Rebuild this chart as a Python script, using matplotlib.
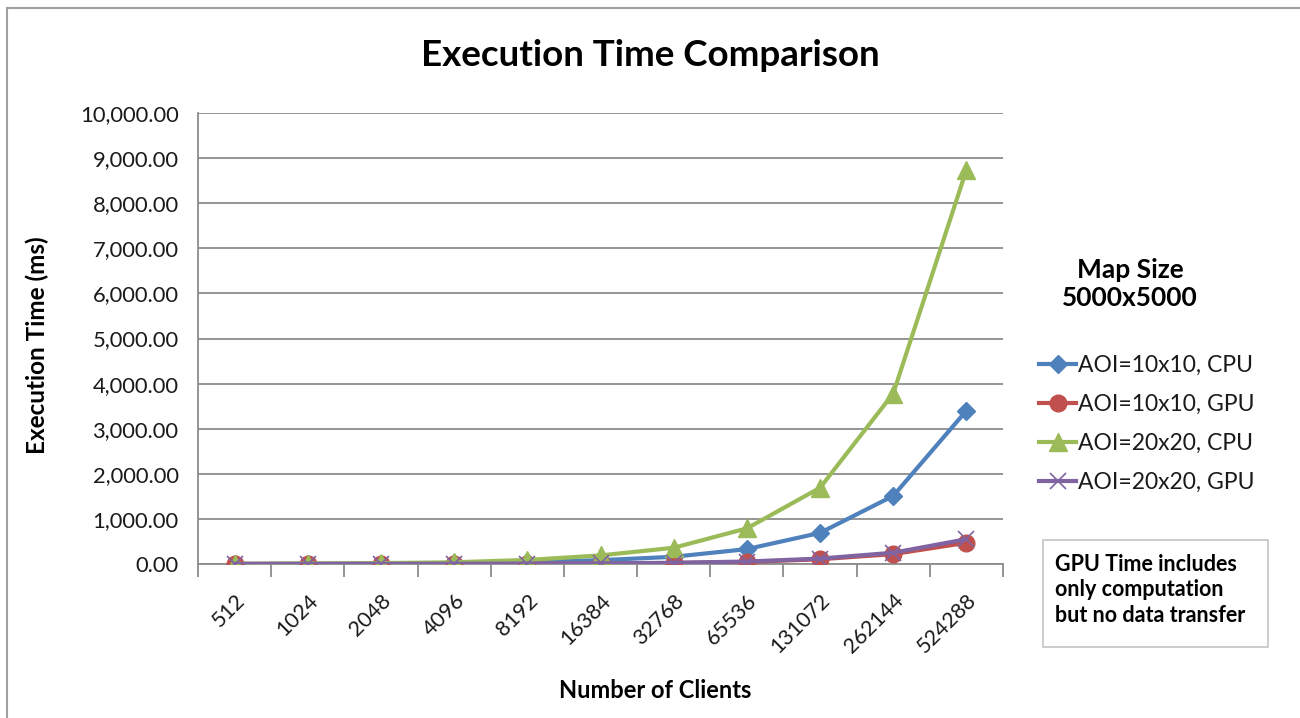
import matplotlib
matplotlib.use("Agg")
import matplotlib.pyplot as plt
from matplotlib.ticker import FuncFormatter, FixedLocator
from matplotlib.patches import Rectangle

clients = ["512", "1024", "2048", "4096", "8192", "16384", "32768",
           "65536", "131072", "262144", "524288"]
cpu_10 = [2, 4, 8, 18, 40, 85, 160, 330, 690, 1510, 3400]
gpu_10 = [1, 2, 3, 5, 8, 12, 22, 45, 105, 220, 470]
cpu_20 = [5, 10, 20, 38, 90, 190, 360, 790, 1690, 3780, 8740]
gpu_20 = [1, 2, 4, 6, 10, 15, 27, 55, 120, 250, 550]
series_labels = ["AOI=10x10, CPU", "AOI=10x10, GPU", "AOI=20x20, CPU", "AOI=20x20, GPU"]

plt.rcParams['font.family'] = ['Lato', 'DejaVu Sans']

fig = plt.figure(figsize=(13, 7.18), dpi=100)
ax = fig.add_axes([198/1300, 1-564/718, (1003-198)/1300, (564-113)/718])

x = list(range(len(clients)))
ax.plot(x, cpu_10, color="#4F81BD", lw=3, marker="D", ms=9, label=series_labels[0], zorder=3)
ax.plot(x, gpu_10, color="#C0504D", lw=3, marker="o", ms=12, label=series_labels[1], zorder=3)
ax.plot(x, cpu_20, color="#9BBB59", lw=3, marker="^", ms=13, label=series_labels[2], zorder=3)
ax.plot(x, gpu_20, color="#8064A2", lw=3, marker="x", ms=12, mew=1.2, label=series_labels[3], zorder=4)

ax.set_xlim(-0.5, len(clients) - 0.5)
ax.set_ylim(0, 10000)
ax.set_yticks(range(0, 10001, 1000))
ax.yaxis.set_major_formatter(FuncFormatter(lambda v, p: f"{v:,.2f}"))
ax.grid(axis='y', color="#8c8c8c", lw=1.3)
ax.set_axisbelow(True)

ax.set_xticks(x)
ax.set_xticklabels(clients, rotation=45, ha='right', rotation_mode='anchor', fontsize=15.5)
ax.xaxis.set_minor_locator(FixedLocator([i - 0.5 for i in range(len(clients) + 1)]))
ax.tick_params(axis='x', which='major', length=0, pad=19)
ax.tick_params(axis='x', which='minor', length=9, width=1.3, color="#8c8c8c")
ax.tick_params(axis='y', length=0, labelsize=15.8, pad=14)
for lab in ax.get_xticklabels():
    lab.set_color("#1a1a1a")
for lab in ax.get_yticklabels():
    lab.set_color("#1a1a1a")

for s in ['top', 'right']:
    ax.spines[s].set_visible(False)
for s in ['left', 'bottom']:
    ax.spines[s].set_color("#8c8c8c")
    ax.spines[s].set_linewidth(1.3)

fig.text(37/1300, 1-345/718, "Execution Time (ms)", rotation=90, ha='center', va='center',
         fontsize=17.5, fontweight='bold')
fig.text(655/1300, 1-690/718, "Number of Clients", ha='center', va='center',
         fontsize=17, fontweight='bold')
fig.text(650/1300, 1-55/718, "Execution Time Comparison", ha='center', va='center',
         fontsize=26.5, fontweight='bold')

fig.text(1130/1300, 1-284/718, "Map Size\n5000x5000", ha='center', va='center',
         fontsize=19, fontweight='bold', linespacing=1.25)

leg = fig.legend(loc='upper left', bbox_to_anchor=(1030/1300, 1-346/718), frameon=False,
                 fontsize=16.5, handlelength=1.6, handletextpad=0.1, labelspacing=0.78,
                 borderaxespad=0)
for t in leg.get_texts():
    t.set_color("#1a1a1a")

fig.patches.append(Rectangle((1043/1300, 1-647/718), (1268-1043)/1300, (647-540)/718,
                             transform=fig.transFigure, fill=False, edgecolor="#c8c8c8", lw=1.3))
fig.text(1055/1300, 1-590/718, "GPU Time includes\nonly computation\nbut no data transfer",
         ha='left', va='center', fontsize=15.5, fontweight='bold', linespacing=1.25)

fig.patches.append(Rectangle((7/1300, -0.01), 1.2, 1-8/718 + 0.01,
                             transform=fig.transFigure, fill=False, edgecolor="#a0a0a0", lw=1.5))

fig.savefig("out.png", dpi=100)
